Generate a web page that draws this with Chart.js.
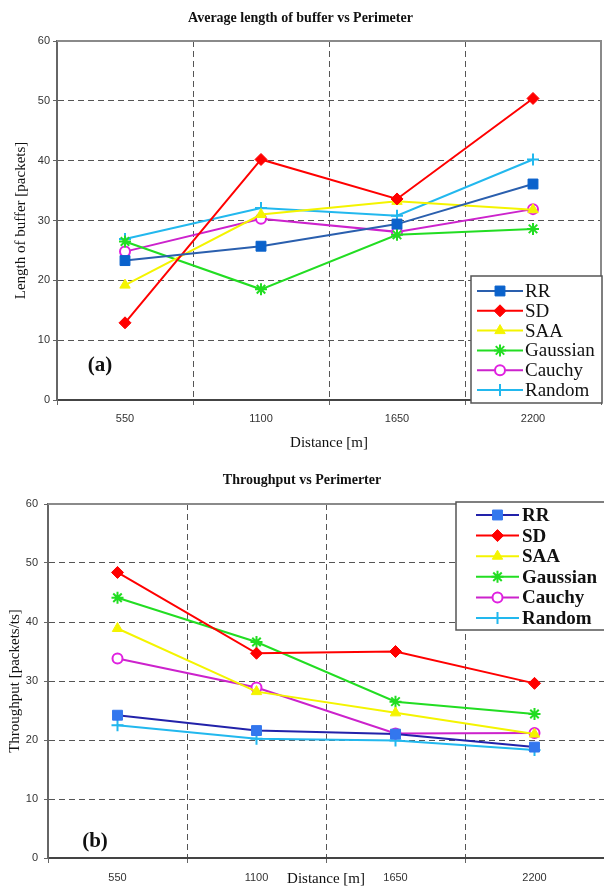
<!DOCTYPE html>
<html>
<head>
<meta charset="utf-8">
<script src="https://cdn.jsdelivr.net/npm/chart.js@4.4.1/dist/chart.umd.min.js"></script>
<style>
  html, body { margin: 0; padding: 0; background: #fff; }
  canvas { display: block; }
</style>
</head>
<body>
<canvas id="bufferChart" width="604" height="452"></canvas>
<canvas id="throughputChart" width="604" height="436"></canvas>
<script>
var distances = ["550", "1100", "1650", "2200"];
var seriesNames = ["RR", "SD", "SAA", "Gaussian", "Cauchy", "Random"];

// (a) average length of buffer [packets]
var bufRR = [23.3, 25.7, 29.4, 36.1];
var bufSD = [12.9, 40.2, 33.6, 50.4];
var bufSAA = [19.2, 31.0, 33.2, 31.8];
var bufGaussian = [26.5, 18.5, 27.6, 28.6];
var bufCauchy = [24.8, 30.3, 28.1, 31.9];
var bufRandom = [26.9, 32.1, 30.8, 40.2];

// (b) throughput [packets/ts]
var thrRR = [24.2, 21.6, 21.0, 18.8];
var thrSD = [48.4, 34.7, 35.0, 29.6];
var thrSAA = [38.9, 28.2, 24.6, 21.0];
var thrGaussian = [44.1, 36.6, 26.5, 24.4];
var thrCauchy = [33.8, 28.9, 21.1, 21.2];
var thrRandom = [22.5, 20.2, 19.9, 18.3];

var yMin = 0, yMax = 60, yStep = 10;

// look of each series: line colour, marker colour, marker shape
var looksA = [
  { line: "#2a5fae", fill: "#0a62cc", style: "rect", r: 7 },
  { line: "#ff0000", fill: "#ff0000", style: "rectRot", r: 6 },
  { line: "#f4f400", fill: "#f4f400", style: "triangle", r: 6 },
  { line: "#22dd22", fill: "#22dd22", style: "star", r: 6 },
  { line: "#cc22cc", fill: "#ffffff", border: "#e020e0", style: "circle", r: 5 },
  { line: "#22b8ee", fill: "#22b8ee", style: "cross", r: 6 }
];
var looksB = looksA.slice();
looksB[0] = { line: "#2222aa", fill: "#3377ee", style: "rect", r: 7 };

function makeSets(values, looks) {
  return values.map(function (v, i) {
    var lk = looks[i];
    return {
      label: seriesNames[i],
      data: v,
      borderColor: lk.line,
      backgroundColor: lk.fill,
      borderWidth: 2,
      tension: 0,
      fill: false,
      pointStyle: lk.style,
      pointRadius: lk.r,
      pointHoverRadius: lk.r,
      pointBackgroundColor: lk.fill,
      pointBorderColor: lk.border || lk.fill,
      pointBorderWidth: lk.style === "rect" || lk.style === "rectRot" || lk.style === "triangle" ? 1 : 2
    };
  });
}

// legend box drawn inside the plot, like the original figure
var boxLegend = {
  id: "boxLegend",
  afterDraw: function (chart, args, o) {
    var ctx = chart.ctx;
    ctx.save();
    ctx.fillStyle = "#fff";
    ctx.fillRect(o.x, o.y, o.w, o.h);
    ctx.strokeStyle = "#555";
    ctx.lineWidth = 1.5;
    ctx.strokeRect(o.x, o.y, o.w, o.h);
    ctx.font = o.font;
    ctx.textBaseline = "middle";
    chart.data.datasets.forEach(function (ds, i) {
      var y = o.row0 + i * o.step;
      ctx.strokeStyle = ds.borderColor;
      ctx.lineWidth = 2;
      ctx.setLineDash([]);
      ctx.beginPath();
      ctx.moveTo(o.lineX0, y);
      ctx.lineTo(o.lineX1, y);
      ctx.stroke();
      ctx.fillStyle = ds.pointBackgroundColor;
      ctx.strokeStyle = ds.pointBorderColor;
      ctx.lineWidth = ds.pointBorderWidth;
      if (Chart.helpers && Chart.helpers.drawPoint) {
        Chart.helpers.drawPoint(ctx, {
          pointStyle: ds.pointStyle, radius: ds.pointRadius, rotation: 0, borderWidth: ds.pointBorderWidth
        }, (o.lineX0 + o.lineX1) / 2, y);
      }
      ctx.fillStyle = "#111";
      ctx.fillText(ds.label, o.textX, y + 1);
    });
    ctx.restore();
  }
};

// solid grey frame on top / right, and the panel tag
var frameAndTag = {
  id: "frameAndTag",
  beforeDatasetsDraw: function (chart, args, o) {
    var a = chart.chartArea, ctx = chart.ctx;
    ctx.save();
    ctx.strokeStyle = "#8a8a8a";
    ctx.lineWidth = 2;
    ctx.beginPath();
    ctx.moveTo(a.left, a.top);
    ctx.lineTo(a.right, a.top);
    if (o.right) ctx.lineTo(a.right, a.bottom);
    ctx.stroke();
    ctx.restore();
  },
  afterDraw: function (chart, args, o) {
    var ctx = chart.ctx;
    ctx.save();
    ctx.font = "bold 21px 'Liberation Serif'";
    ctx.fillStyle = "#111";
    ctx.textAlign = "center";
    ctx.textBaseline = "middle";
    ctx.fillText(o.tag, o.tagX, o.tagY);
    ctx.restore();
  }
};

function makeChart(id, sets, cfg) {
  return new Chart(document.getElementById(id), {
    type: "line",
    data: { labels: distances, datasets: sets },
    plugins: [frameAndTag, boxLegend],
    options: {
      responsive: false,
      animation: false,
      devicePixelRatio: 1,
      layout: { autoPadding: false, padding: { left: 0, right: cfg.padRight, top: 0, bottom: 0 } },
      plugins: {
        legend: { display: false },
        tooltip: { enabled: false },
        title: {
          display: true,
          text: cfg.title,
          color: "#111",
          font: { family: "'Liberation Serif'", size: 14, weight: "bold" },
          padding: { top: cfg.titleTop, bottom: cfg.titleBottom }
        },
        boxLegend: cfg.legend,
        frameAndTag: cfg.frame
      },
      scales: {
        x: {
          type: "category",
          offset: true,
          afterFit: function (s) {
            s.height = cfg.xHeight;
            s.paddingLeft = 0;
            s.paddingRight = 0;
          },
          grid: {
            offset: true,
            color: function (c) { return (c.index === 0 || c.index === distances.length) ? "rgba(0,0,0,0)" : "#555"; },
            lineWidth: 1,
            tickLength: 5,
            tickColor: "#666"
          },
          border: { display: true, color: "#444", width: 2, dash: [6, 4] },
          ticks: {
            color: "#333",
            padding: cfg.xTickPad,
            font: { family: "'Liberation Sans'", size: 11 }
          },
          title: {
            display: true,
            text: "Distance [m]",
            color: "#111",
            font: { family: "'Liberation Serif'", size: 15 },
            padding: { top: 0, bottom: 0 }
          }
        },
        y: {
          min: yMin,
          max: yMax,
          afterFit: function (s) { s.width = cfg.yWidth; },
          grid: {
            color: function (c) { return (c.tick && (c.tick.value === yMin || c.tick.value === yMax)) ? "rgba(0,0,0,0)" : "#555"; },
            lineWidth: 1,
            tickLength: 4,
            tickColor: "#666"
          },
          border: { display: true, color: "#666", width: 2, dash: [6, 4] },
          ticks: {
            stepSize: yStep,
            color: "#333",
            padding: cfg.yTickPad,
            font: { family: "'Liberation Sans'", size: 11 }
          },
          title: {
            display: true,
            text: cfg.yTitle,
            color: "#111",
            font: { family: "'Liberation Serif'", size: 15 },
            padding: { top: cfg.yTitlePad, bottom: 0 }
          }
        }
      }
    }
  });
}

makeChart("bufferChart",
  makeSets([bufRR, bufSD, bufSAA, bufGaussian, bufCauchy, bufRandom], looksA),
  {
    title: "Average length of buffer vs Perimeter",
    yTitle: "Length of buffer [packets]",
    padRight: 3, titleTop: 10, titleBottom: 14.2,
    xHeight: 52, yWidth: 57, xTickPad: 7, yTickPad: 3, yTitlePad: 12,
    legend: { x: 471, y: 276, w: 131, h: 127, row0: 291, step: 19.8, lineX0: 477, lineX1: 523, textX: 525,
              font: "19px 'Liberation Serif'" },
    frame: { right: true, tag: "(a)", tagX: 100, tagY: 366 }
  });

makeChart("throughputChart",
  makeSets([thrRR, thrSD, thrSAA, thrGaussian, thrCauchy, thrRandom], looksB),
  {
    title: "Throughput vs Perimerter",
    yTitle: "Throughput [packets/ts]",
    padRight: 0, titleTop: 20, titleBottom: 15.2,
    xHeight: 30, yWidth: 48, xTickPad: 8, yTickPad: 6, yTitlePad: 6,
    legend: { x: 456, y: 50, w: 150, h: 128, row0: 63, step: 20.6, lineX0: 476, lineX1: 519, textX: 522,
              font: "bold 19px 'Liberation Serif'" },
    frame: { right: false, tag: "(b)", tagX: 95, tagY: 390 }
  });
</script>
</body>
</html>
